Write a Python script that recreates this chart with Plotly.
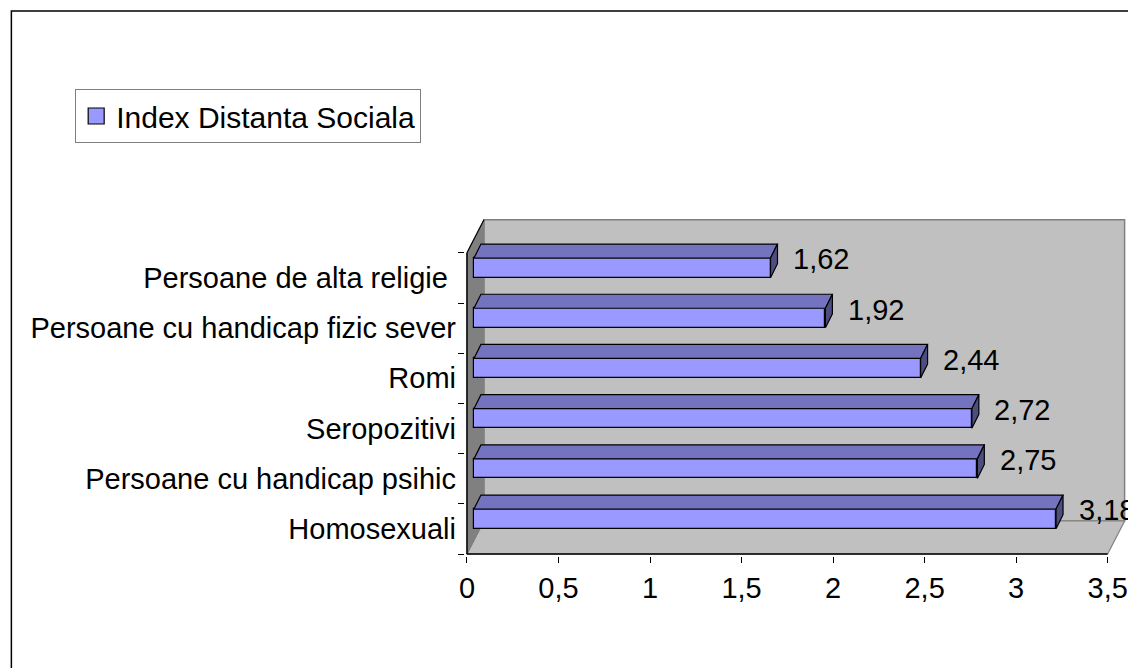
import plotly.graph_objects as go

# ---------------- data ----------------
categories = [
    "Homosexuali",
    "Persoane cu handicap psihic",
    "Seropozitivi",
    "Romi",
    "Persoane cu handicap fizic sever",
    "Persoane de alta religie ",
]
values = [3.18, 2.75, 2.72, 2.44, 1.92, 1.62]
value_labels = ["3,18", "2,75", "2,72", "2,44", "1,92", "1,62"]
x_ticks = [0, 0.5, 1, 1.5, 2, 2.5, 3, 3.5]
x_tick_labels = ["0", "0,5", "1", "1,5", "2", "2,5", "3", "3,5"]
series_name = "Index Distanta Sociala"

# ---------------- geometry / style ----------------
W, H = 1128, 668
L, R, T, B = 465, 0, 215, 112
PX_X = 183.6          # pixels per x unit
PX_Y = 50.2           # pixels per category
plot_w = W - L - R
plot_h = H - T - B
X_MIN = -2 / PX_X
X_MAX = X_MIN + plot_w / PX_X
Y_MIN = -0.5 - 2 / PX_Y
Y_MAX = Y_MIN + plot_h / PX_Y
X_END = 3.5
DX = 17 / PX_X        # depth of the 3D box
DY = 33 / PX_Y
BX0 = 7 / PX_X        # bar front-face offset
BY0 = 0.2
BW = 0.39
TDX = 7 / PX_X        # bar depth
TDY = 14 / PX_Y
FONT = "Liberation Sans, Arial, sans-serif"
FS = 29
FRONT = "#9999FF"
TOP = "#7373BF"
SIDE = "#4D4D80"
WALL = "#C0C0C0"
SIDEWALL = "#808080"

n = len(categories)
ypos = list(range(n))
y_top_cat = n - 0.5

fig = go.Figure()

# front faces of bars
fig.add_trace(go.Bar(
    y=[i + BY0 for i in ypos], x=values, base=BX0, orientation="h",
    width=BW, name=series_name, legendgroup="s",
    marker=dict(color=FRONT, line=dict(color="black", width=1.2)),
    hoverinfo="skip", showlegend=False,
))

# top faces and end faces built from the same values
tx, ty, sx, sy = [], [], [], []
for i, v in zip(ypos, values):
    yb = i + BY0 - BW / 2
    yt = i + BY0 + BW / 2
    x0 = BX0
    x1 = BX0 + v
    tx += [x0, x1, x1 + TDX, x0 + TDX, x0, None]
    ty += [yt, yt, yt + TDY, yt + TDY, yt, None]
    sx += [x1, x1, x1 + TDX, x1 + TDX, x1, None]
    sy += [yb, yt, yt + TDY, yb + TDY, yb, None]

fig.add_trace(go.Scatter(x=tx, y=ty, mode="lines", fill="toself", fillcolor=TOP,
                         line=dict(color="black", width=1.2), hoverinfo="skip",
                         showlegend=False))
fig.add_trace(go.Scatter(x=sx, y=sy, mode="lines", fill="toself", fillcolor=SIDE,
                         line=dict(color="black", width=1.2), hoverinfo="skip",
                         showlegend=False))

# legend entry (square swatch like the original)
fig.add_trace(go.Scatter(x=[None], y=[None], mode="markers", name=series_name,
                         legendgroup="s",
                         marker=dict(symbol="square", size=18, color=FRONT,
                                     line=dict(color="black", width=1.2)),
                         showlegend=True))

# value labels
for i, v, t in zip(ypos, values, value_labels):
    fig.add_annotation(x=v + 0.15, y=i + 0.37, text=t, showarrow=False,
                       xanchor="left", yanchor="middle",
                       font=dict(family=FONT, size=FS, color="black"))

shapes = []
# back wall
shapes.append(dict(type="path", xref="x", yref="y", layer="below",
                   path=f"M{DX},{-0.5+DY} L{X_END+DX},{-0.5+DY} L{X_END+DX},{y_top_cat+DY} L{DX},{y_top_cat+DY} Z",
                   fillcolor=WALL, line=dict(color="#808080", width=1.5)))
# floor
shapes.append(dict(type="path", xref="x", yref="y", layer="below",
                   path=f"M0,-0.5 L{X_END},-0.5 L{X_END+DX},{-0.5+DY} L{DX},{-0.5+DY} Z",
                   fillcolor=WALL, line=dict(color="#808080", width=1.2)))
# left wall
shapes.append(dict(type="path", xref="x", yref="y", layer="below",
                   path=f"M0,-0.5 L{DX},{-0.5+DY} L{DX},{y_top_cat+DY} L0,{y_top_cat} Z",
                   fillcolor=SIDEWALL, line=dict(color="#808080", width=1)))
# axis lines (black)
shapes.append(dict(type="line", xref="x", yref="y", layer="below",
                   x0=0, y0=-0.5, x1=X_END, y1=-0.5, line=dict(color="black", width=1.5)))
shapes.append(dict(type="line", xref="x", yref="y", layer="below",
                   x0=0, y0=-0.5, x1=0, y1=y_top_cat, line=dict(color="black", width=1.5)))
shapes.append(dict(type="line", xref="x", yref="y", layer="below",
                   x0=0, y0=y_top_cat, x1=DX, y1=y_top_cat + DY, line=dict(color="black", width=1.2)))
# outer chart border
shapes.append(dict(type="rect", xref="paper", yref="paper",
                   x0=(10 - L) / plot_w, x1=(W + 10 - L) / plot_w,
                   y0=(H - B - (H + 10)) / plot_h, y1=(H - B - 11) / plot_h,
                   line=dict(color="black", width=1.5), fillcolor="rgba(0,0,0,0)"))

fig.update_layout(
    width=W, height=H, autosize=False,
    margin=dict(l=L, r=R, t=T, b=B, pad=0),
    paper_bgcolor="white", plot_bgcolor="white",
    font=dict(family=FONT, size=FS, color="black"),
    shapes=shapes,
    bargap=0,
    showlegend=True,
    legend=dict(
        x=(74 - L) / plot_w, y=(H - B - 89) / plot_h,
        xanchor="left", yanchor="top",
        bgcolor="white", bordercolor="#808080", borderwidth=1,
        font=dict(family=FONT, size=30, color="black"),
        itemclick=False, itemdoubleclick=False,
        itemwidth=30, tracegroupgap=0,
    ),
    xaxis=dict(
        range=[X_MIN, X_MAX], tickvals=x_ticks, ticktext=x_tick_labels,
        ticks="outside", ticklen=6, tickwidth=1.2, tickcolor="black",
        showgrid=False, zeroline=False, showline=False,
        ticklabeloverflow="allow",
        tickfont=dict(family=FONT, size=FS, color="black"),
        fixedrange=True,
    ),
    yaxis=dict(
        range=[Y_MIN, Y_MAX], tickvals=ypos, ticktext=categories,
        ticks="", showgrid=False, zeroline=False, showline=False,
        ticklabelstandoff=8,
        tickfont=dict(family=FONT, size=FS, color="black"),
        minor=dict(tickvals=[i - 0.5 for i in range(n + 1)], ticks="outside",
                   ticklen=6, tickwidth=1.2, tickcolor="black", showgrid=False),
        fixedrange=True,
    ),
)

fig.write_html("out.html", config={"displayModeBar": False},
               post_script="document.body.style.margin='0';")
